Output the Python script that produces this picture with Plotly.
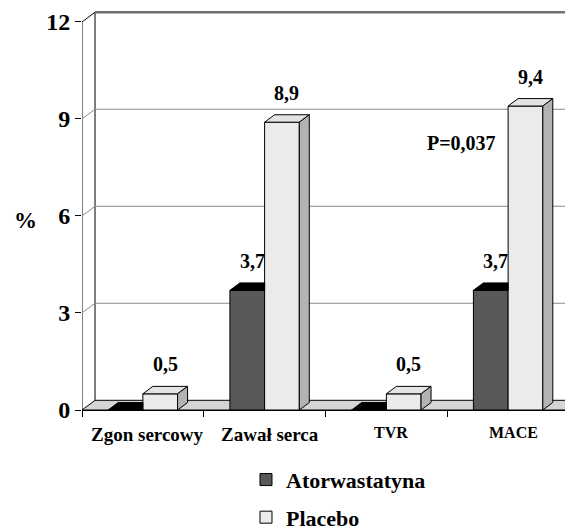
import plotly.graph_objects as go

# ---- data ----
categories = ["Zgon sercowy", "Zawał serca", "TVR", "MACE"]
atorwastatyna = [0, 3.7, 0, 3.7]
placebo = [0.5, 8.9, 0.5, 9.4]
ator_labels = ["", "3,7", "", "3,7"]
placebo_labels = ["0,5", "8,9", "0,5", "9,4"]
y_ticks = [0, 3, 6, 9, 12]
p_value_text = "P=0,037"

# ---- styles / geometry ----
FONT = "Liberation Serif"
W = 0.285                 # bar width (category units)
BDX, BDY = 0.082, 0.23    # bar depth offset
WDX, WDY = 0.107, 0.30    # wall depth offset
XMIN, XMAX = -0.5, 3.533
YMAX = 12.4
DARK = "#595959"
DARK_TOP = "#000000"
LIGHT = "#ebebeb"
LIGHT_TOP = "#e4e4e4"
LIGHT_SIDE = "#b3b3b3"
FLOOR = "#d4d4d4"
GRID = "#8a8a8a"
cat_font_sizes = [19, 19, 16, 16]

x_idx = list(range(len(categories)))
fig = go.Figure()

fig.add_trace(go.Bar(x=x_idx, y=atorwastatyna, name="Atorwastatyna",
                     offset=-W, width=W, marker=dict(color=DARK, line=dict(color="black", width=1)),
                     legendgroup="a", hoverinfo="skip"))
fig.add_trace(go.Bar(x=x_idx, y=placebo, name="Placebo",
                     offset=0, width=W, marker=dict(color=LIGHT, line=dict(color="black", width=1)),
                     legendgroup="p", hoverinfo="skip"))


def poly(xs, ys, color):
    fig.add_trace(go.Scatter(x=xs + [xs[0]], y=ys + [ys[0]], mode="lines", fill="toself",
                             fillcolor=color, line=dict(color="black", width=1),
                             showlegend=False, hoverinfo="skip"))


for i, (a, p) in enumerate(zip(atorwastatyna, placebo)):
    x0 = i - W
    poly([x0, i, i, x0 + BDX], [a, a, a + BDY, a + BDY], DARK_TOP)
    x1 = i + W
    poly([i, x1, x1 + BDX, i + BDX], [p, p, p + BDY, p + BDY], LIGHT_TOP)
    poly([x1, x1, x1 + BDX, x1 + BDX], [0, p, p + BDY, BDY], LIGHT_SIDE)

annotations = []
for i, (a, p) in enumerate(zip(atorwastatyna, placebo)):
    for xc, v, txt in ((i - W / 2 + BDX / 2, a, ator_labels[i]), (i + W / 2 + BDX / 2, p, placebo_labels[i])):
        if txt:
            annotations.append(dict(text=txt, x=xc, y=v + BDY, xref="x", yref="y",
                                    xanchor="center", yanchor="bottom", yshift=9, showarrow=False,
                                    font=dict(family=FONT, size=20, color="black", weight="bold")))
for i, c in enumerate(categories):
    annotations.append(dict(text=c, x=i + BDX / 2, y=0, xref="x", yref="paper",
                            xanchor="center", yanchor="top", yshift=-12, showarrow=False,
                            font=dict(family=FONT, size=cat_font_sizes[i], color="black", weight="bold")))
annotations += [
    dict(text=p_value_text, x=2.917, y=8.25, xref="x", yref="y", xanchor="right",
         yanchor="middle", showarrow=False,
         font=dict(family=FONT, size=20, color="black", weight="bold")),
    dict(text="%", x=-0.115, y=5.85, xref="paper", yref="y", xanchor="center",
         yanchor="middle", showarrow=False,
         font=dict(family=FONT, size=23, color="black", weight="bold")),
]

shapes = []
shapes.append(dict(type="path", xref="x", yref="y", layer="below",
                   path=f"M{XMIN},0 L{XMAX},0 L{XMAX},{WDY} L{XMIN + WDX},{WDY} Z",
                   fillcolor=FLOOR, line=dict(color="black", width=1)))
shapes.append(dict(type="line", xref="x", yref="y", layer="below",
                   x0=XMIN + WDX, x1=XMIN + WDX, y0=WDY, y1=y_ticks[-1] + WDY,
                   line=dict(color="black", width=1)))
shapes.append(dict(type="line", xref="x", yref="y", layer="below",
                   x0=XMIN, x1=XMIN, y0=0, y1=y_ticks[-1], line=dict(color="black", width=1)))
for t in y_ticks[1:]:
    top = t == y_ticks[-1]
    shapes.append(dict(type="line", xref="x", yref="y", layer="below",
                       x0=XMIN + WDX, x1=XMAX, y0=t + WDY, y1=t + WDY,
                       line=dict(color="#707070" if top else GRID, width=2.5 if top else 1)))
    shapes.append(dict(type="line", xref="x", yref="y", layer="below",
                       x0=XMIN, x1=XMIN + WDX, y0=t, y1=t + WDY,
                       line=dict(color="black" if top else GRID, width=1)))

fig.update_layout(
    width=573, height=532,
    margin=dict(l=74, r=8, t=1, b=128),
    plot_bgcolor="white", paper_bgcolor="white",
    barmode="overlay",
    shapes=shapes,
    annotations=annotations,
    showlegend=True,
    legend=dict(x=0.334, y=-0.1216, xanchor="left", yanchor="top",
                traceorder="grouped", tracegroupgap=6,
                font=dict(family=FONT, size=22, color="black", weight="bold")),
    xaxis=dict(range=[XMIN, XMAX], tickvals=[XMIN + k for k in range(len(categories) + 1)],
               showticklabels=False, ticks="outside", ticklen=6, tickcolor="black",
               showline=True, linecolor="black", linewidth=1, showgrid=False, zeroline=False),
    yaxis=dict(range=[0, YMAX], tickvals=y_ticks, ticktext=[str(t) for t in y_ticks],
               ticks="outside", ticklen=6, tickcolor="black", showline=False, showgrid=False,
               zeroline=False,
               tickfont=dict(family=FONT, size=24, color="black", weight="bold")),
)

fig.write_html("out.html")
